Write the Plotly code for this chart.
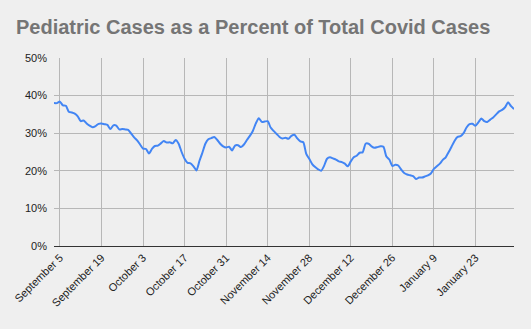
import pandas as pd
import plotly.graph_objects as go

start_date = "2021-09-03"
pct_values = [
    38.0, 38.0, 38.4, 37.4, 37.3, 35.7, 35.5, 35.2, 34.5, 33.2,
    33.4, 32.6, 32.0, 31.6, 31.9, 32.5, 32.6, 32.4, 32.2, 31.1,
    32.1, 32.0, 31.0, 31.1, 31.0, 30.9, 29.9, 28.9, 28.1, 27.0,
    25.9, 25.8, 24.6, 25.8, 26.6, 26.7, 27.3, 27.9, 27.5, 27.6,
    27.3, 28.2, 27.2, 25.0, 23.2, 22.1, 22.0, 21.2, 20.1, 22.6,
    24.8, 27.2, 28.4, 28.7, 29.0, 28.2, 27.2, 26.5, 26.2, 26.4,
    25.4, 26.7, 26.8, 26.3, 27.0, 28.2, 29.3, 30.6, 32.6, 34.0,
    33.0, 33.1, 33.2, 31.5, 30.6, 29.8, 29.0, 28.6, 28.8, 28.5,
    29.3, 29.6, 28.6, 27.8, 27.6, 24.5, 23.2, 21.8, 21.0, 20.4,
    20.0, 21.3, 23.2, 23.6, 23.3, 23.0, 22.5, 22.3, 21.9, 21.2,
    22.5, 23.6, 24.0, 24.8, 24.9, 27.2, 27.2, 26.5, 26.1, 26.3,
    26.5, 26.4, 23.8, 23.0, 21.3, 21.6, 21.4, 20.3, 19.4, 19.0,
    18.8, 18.6, 17.8, 18.2, 18.2, 18.5, 18.8, 19.3, 20.5, 21.2,
    21.9, 22.9, 23.6, 25.0, 26.5, 28.0, 29.0, 29.2, 30.0, 31.5,
    32.4, 32.5, 32.0, 32.9, 33.9, 33.2, 33.0, 33.6, 34.2, 35.0,
    35.8, 36.2, 36.9, 38.2, 37.2, 36.4,
]
dates = pd.date_range(start_date, periods=len(pct_values), freq="D")

tick_dates = ["2021-09-05", "2021-09-19", "2021-10-03", "2021-10-17", "2021-10-31",
              "2021-11-14", "2021-11-28", "2021-12-12", "2021-12-26", "2022-01-09",
              "2022-01-23"]
tick_labels = ["September 5", "September 19", "October 3", "October 17", "October 31",
               "November 14", "November 28", "December 12", "December 26", "January 9",
               "January 23"]
y_ticks = [0, 10, 20, 30, 40, 50]
y_labels = ["0%", "10%", "20%", "30%", "40%", "50%"]

bg = "#efefef"

fig = go.Figure()
fig.add_trace(go.Scatter(
    x=dates, y=pct_values, mode="lines",
    line=dict(color="#4285f4", width=2, shape="spline", smoothing=0.6),
    hoverinfo="skip",
))

fig.update_layout(
    width=531, height=329,
    paper_bgcolor=bg, plot_bgcolor=bg,
    margin=dict(l=47, r=17, t=58, b=83),
    showlegend=False,
    title=dict(
        text="<b>Pediatric Cases as a Percent of Total Covid Cases</b>",
        x=16 / 531, xanchor="left", xref="paper",
        y=1 - 27 / 329, yanchor="middle", yref="container",
        font=dict(family="Liberation Sans, Arial, sans-serif", size=20, color="#757575"),
    ),
    font=dict(family="Liberation Sans, Arial, sans-serif", size=11, color="#222222"),
)
fig.layout.title.x = 16 / 531
fig.layout.title.xref = "container"

fig.update_xaxes(
    range=[dates[0], dates[-1]],
    tickmode="array", tickvals=tick_dates, ticktext=tick_labels,
    tickangle=-45,
    showgrid=True, gridcolor="#b7b7b7", gridwidth=1,
    showline=True, linecolor="#333333", linewidth=1,
    ticks="", zeroline=False,
    tickfont=dict(size=11, color="#222222"),
)
fig.update_yaxes(
    range=[0, 50],
    tickmode="array", tickvals=y_ticks, ticktext=y_labels,
    showgrid=True, gridcolor="#b7b7b7", gridwidth=1,
    zeroline=False, showline=False, ticks="",
    ticklabelstandoff=6,
    tickfont=dict(size=11, color="#222222"),
)

fig.write_html("out.html")
